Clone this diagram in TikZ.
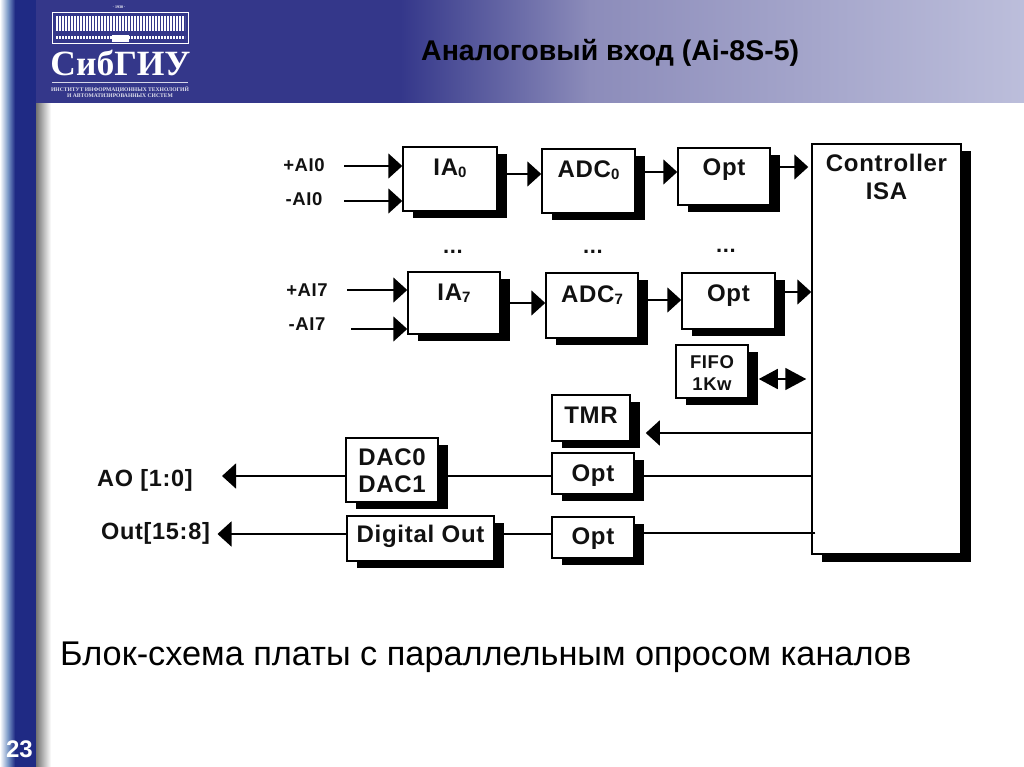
\documentclass[tikz,border=0pt]{standalone}
\usepackage{fontspec}
\usepackage{xcolor}
\usepackage{tikz}
\usetikzlibrary{arrows.meta, shadows}
\setmainfont{Liberation Sans}
\newfontfamily\schfont[LetterSpace=3]{Liberation Sans}
\newfontfamily\logofont{Liberation Serif}
\definecolor{navy}{HTML}{1F2A84}
\definecolor{head}{HTML}{34378A}
\definecolor{headmid}{HTML}{8C8CBA}
\definecolor{headend}{HTML}{BCBEDB}
\definecolor{edge}{HTML}{3F6AAE}
\definecolor{ink}{HTML}{111111}
\newcommand{\subidx}[1]{\raisebox{-2pt}{\fontsize{15}{15}\selectfont #1}}

\begin{document}
\begin{tikzpicture}[x=1pt, y=-1pt,
      box/.style={draw=black, fill=white, line width=1.5pt, inner sep=0pt, text=ink,
                  align=center, text height=15pt,
                  general shadow={shadow xshift=10pt, shadow yshift=-7pt, fill=black},
                  font=\schfont\bfseries\fontsize{24}{27}\selectfont},
      up/.style={text depth=#1},
      size/.style n args={2}{minimum width=#1, minimum height=#2},
      signal/.style={text=ink, inner sep=0pt, font=\schfont\bfseries\fontsize{#1}{#1}\selectfont},
      wire/.style={draw=black, line width=1.7pt},
      arrow/.style={wire, -{Triangle[length=14pt, width=25pt]}},
      both/.style={wire, {Triangle[length=19pt, width=20pt]}-{Triangle[length=21pt, width=22pt]}},
      logotext/.style={text=white, inner sep=0pt, font=\logofont\bfseries\fontsize{#1}{#1}\selectfont}]
    \useasboundingbox (0,0) rectangle (1024,767);
    \fill[white] (0,0) rectangle (1024,767);
    % side bar and header
    \shade[left color=white, right color=edge!70!white] (0,0) rectangle (8,767);
    \shade[left color=edge!70!white, right color=navy] (8,0) rectangle (15,767);
    \fill[navy] (15,0) rectangle (36,767);
    \shade[left color=black!55, right color=white] (36,103) rectangle (51,767);
    \fill[head] (36,0) rectangle (400,103);
    \shade[left color=head, right color=headmid] (400,0) rectangle (590,103);
    \shade[left color=headmid, right color=headend] (590,0) rectangle (1024,103);
    % logo
    \draw[white, line width=0.7pt] (52,12) rectangle (188,43);
    \draw[white, line width=15pt, dash pattern=on 1.8pt off 1.2pt] (56,23.5) -- (185,23.5);
    \draw[white, line width=3pt, dash pattern=on 2pt off 1pt] (56,38) -- (185,38);
    \fill[white] (112,35) rectangle (129,42);
    \node[logotext=4] (logoyear) at (119,7) {· 1930 ·};
    \node[logotext=35.5, anchor=base] (logoname) at (120.5,76) {СибГИУ};
    \draw[white!80!head, line width=0.8pt] (52,82) -- (188,82);
    \node[logotext=5.6, text=white!85!head] (logoline1) at (120,89.5) {ИНСТИТУТ ИНФОРМАЦИОННЫХ ТЕХНОЛОГИЙ};
    \node[logotext=5.6, text=white!85!head] (logoline2) at (120,96) {И АВТОМАТИЗИРОВАННЫХ СИСТЕМ};
    \node[text=white, inner sep=0pt, font=\bfseries\fontsize{24}{24}\selectfont] (pagenum) at (19.5,749) {23};
    % titles
    \node[anchor=base west, inner sep=0pt, text=black, font=\bfseries\fontsize{28.5}{28}\selectfont] (title) at (421,61) {Аналоговый вход (Ai-8S-5)};
    \node[anchor=base west, inner sep=0pt, text=black, font=\fontsize{34.3}{34}\selectfont] (caption) at (60,665) {Блок-схема платы с параллельным опросом каналов};
    % blocks
    \node[box, size={94pt}{64pt}, up=21pt] (ia0) at (450,179) {IA\subidx{0}};
    \node[box, size={93pt}{64pt}, up=21pt] (adc0) at (588.5,181) {ADC\subidx{0}};
    \node[box, size={92pt}{57pt}, up=16pt] (opt0) at (724,176.5) {Opt};
    \node[box, size={92pt}{62pt}, up=21pt] (ia7) at (454,303) {IA\subidx{7}};
    \node[box, size={92pt}{65pt}, up=22pt] (adc7) at (592,305.5) {ADC\subidx{7}};
    \node[box, size={93pt}{56pt}, up=15pt] (opt7) at (728.5,301) {Opt};
    \node[box, size={149pt}{410pt}, up=313pt, general shadow={shadow xshift=10pt, shadow yshift=-8pt, fill=black},
          font=\schfont\bfseries\fontsize{24}{28}\selectfont] (ctrl) at (886.5,349) {Controller\\ISA};
    \node[box, size={72pt}{53pt}, text height=40pt, up=3pt, font=\schfont\bfseries\fontsize{18.5}{22}\selectfont] (fifo) at (712,371.5) {FIFO\\1Kw};
    \node[box, size={78pt}{46pt}, up=5pt] (tmr) at (591,418) {TMR};
    \node[box, size={82pt}{41pt}, up=0pt] (opt1) at (593,473.5) {Opt};
    \node[box, size={82pt}{41pt}, up=1pt] (opt2) at (593,537.5) {Opt};
    \node[box, size={92pt}{64pt}, text height=49pt, up=5pt] (dac) at (392,470) {DAC0\\DAC1};
    \node[box, size={147pt}{45pt}, up=7pt] (dout) at (420.5,538.5) {Digital Out};
    % dots between channels
    \node[signal=22] (dots1) at (453,251.5) {...};
    \node[signal=22] (dots2) at (593,251.5) {...};
    \node[signal=22] (dots3) at (726,250.5) {...};
    % signal names
    \node[signal=18.5] (ai0p) at (304,165) {+AI0};
    \node[signal=18.5] (ai0m) at (304,199) {-AI0};
    \node[signal=18.5] (ai7p) at (307,290) {+AI7};
    \node[signal=18.5] (ai7m) at (307,324) {-AI7};
    \node[signal=23.5] (ao) at (145,480) {AO [1:0]};
    \node[signal=23.5] (out) at (155.5,533) {Out[15:8]};
    \coordinate (in0p) at (344,166);
    \coordinate (in0m) at (344,201);
    \coordinate (in7p) at (347,290);
    \coordinate (in7m) at (351,329);
    \coordinate (aotip) at (222,476);
    \coordinate (outtip) at (217.5,534);
    % connectors
    \draw[arrow] (in0p) -- (in0p -| ia0.west);
    \draw[arrow] (in0m) -- (in0m -| ia0.west);
    \draw[arrow] (in7p) -- (in7p -| ia7.west);
    \draw[arrow] (in7m) -- (in7m -| ia7.west);
    \draw[arrow] ([yshift=5pt]ia0.east) -- ([yshift=7pt]adc0.west);
    \draw[arrow] ([yshift=9pt]adc0.east) -- ([yshift=4.5pt]opt0.west);
    \draw[arrow] ([yshift=9.5pt]opt0.east) -- ([yshift=182pt, xshift=-3pt]ctrl.west);
    \draw[arrow] (ia7.east) -- ([yshift=2.5pt]adc7.west);
    \draw[arrow] ([yshift=5.5pt]adc7.east) -- ([yshift=1pt]opt7.west);
    \draw[arrow] ([yshift=9pt]opt7.east) -- ([yshift=57pt]ctrl.west);
    \draw[both] ([yshift=-7.5pt, xshift=10pt]fifo.east) -- ([yshift=-30pt, xshift=-5pt]ctrl.west);
    \draw[arrow] ([yshift=-84pt]ctrl.west) -- ([yshift=-15pt, xshift=15pt]tmr.east);
    \draw[wire] ([yshift=-127pt]ctrl.west) -- ([yshift=-2.5pt]opt1.east);
    \draw[wire] ([yshift=-2.5pt]opt1.west) -- ([yshift=-6pt]dac.east);
    \draw[arrow] ([yshift=-6pt]dac.west) -- (aotip);
    \draw[wire] ([yshift=-184pt, xshift=4pt]ctrl.west) -- ([yshift=4.5pt]opt2.east);
    \draw[wire] ([yshift=3.5pt]opt2.west) -- ([yshift=4.5pt]dout.east);
    \draw[arrow] ([yshift=4.5pt]dout.west) -- (outtip);
  \end{tikzpicture}
\end{document}
